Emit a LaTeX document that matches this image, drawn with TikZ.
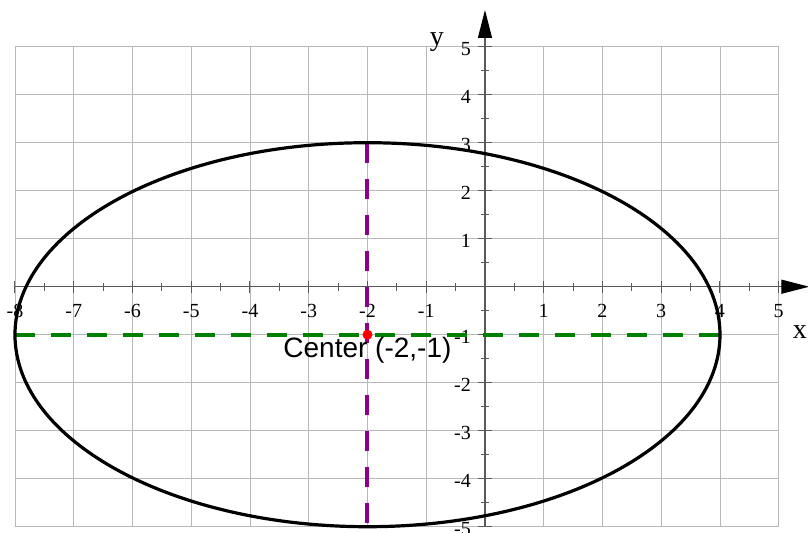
\documentclass[tikz,border=0pt]{standalone}
\usepackage{fontspec}
\setmainfont{Liberation Serif}
\newfontfamily\arialfont{Liberation Sans}
\usetikzlibrary{arrows.meta}
\definecolor{gridgray}{gray}{0.72}
\definecolor{axisgray}{gray}{0.35}
\definecolor{dashgreen}{RGB}{0,128,0}
\definecolor{dashpurple}{RGB}{140,0,140}

\begin{document}
\begin{tikzpicture}[x=58.75pt, y=48pt,
  gridline/.style={draw=gridgray, line width=0.9pt},
  axisline/.style={draw=axisgray, line width=1.2pt},
  axisarrow/.style={axisline, -{Triangle[length=28pt, width=14pt, color=black]}},
  tickmark/.style={draw=axisgray, line width=1pt},
  ticklabel/.style={inner sep=0pt, font=\fontsize{20}{20}\selectfont},
  axislabel/.style={inner sep=0pt, font=\fontsize{28}{28}\selectfont},
  guideline/.style={line width=4pt, dash pattern=on 20pt off 16pt},
  curve/.style={draw=black, line width=3.2pt}
]
\useasboundingbox (-8.255,-5.131) rectangle (5.498,5.973);
\draw[gridline, step=1] (-8,-5) grid (5,5);
\coordinate (xstart) at (-8,0);
\coordinate (xend) at (5.52,0);
\coordinate (ystart) at (0,-5);
\coordinate (yend) at (0,5.765);
\draw[axisarrow] (xstart) -- (xend);
\draw[axisarrow] (ystart) -- (yend);
\foreach \i in {-8,...,-1,1,2,3,4,5} {
  \draw[tickmark] (\i,0) ++(0pt,-6pt) -- ++(0pt,12pt);
  \node[ticklabel] (xt\i) at ([yshift=-24pt]\i,0) {\i};
}
\foreach \i in {-7.5,-6.5,...,4.5}
  \draw[tickmark] (\i,0) ++(0pt,-4pt) -- ++(0pt,8pt);
\foreach \i in {-5,...,-1,1,2,3,4,5} {
  \draw[tickmark] (0,\i) ++(-7pt,0pt) -- ++(14pt,0pt);
  \node[ticklabel, anchor=east] (yt\i) at ([xshift=-14pt,yshift=-2pt]0,\i) {\i};
}
\foreach \i in {-4.5,-3.5,...,4.5}
  \draw[tickmark] (0,\i) ++(-4pt,0pt) -- ++(8pt,0pt);
\node[axislabel] (xlab) at (5.36,-0.94) {x};
\node[axislabel] (ylab) at (-0.817,5.10) {y};
\coordinate (c) at (-2,-1);
\coordinate (left) at (-8,-1);
\coordinate (right) at (4,-1);
\coordinate (top) at (-2,3);
\coordinate (bottom) at (-2,-5);
\draw[guideline, draw=dashgreen] (left) -- (right);
\draw[guideline, draw=dashpurple] (top) -- (bottom);
\draw[curve] (c) ellipse [x radius=6, y radius=4];
\fill[red] (c) circle [radius=5pt];
\node[font=\arialfont\fontsize{28}{28}\selectfont, anchor=base, inner sep=0pt] (centerlabel) at (-2,-1.465) {Center (-2,-1)};
\end{tikzpicture}
\end{document}
